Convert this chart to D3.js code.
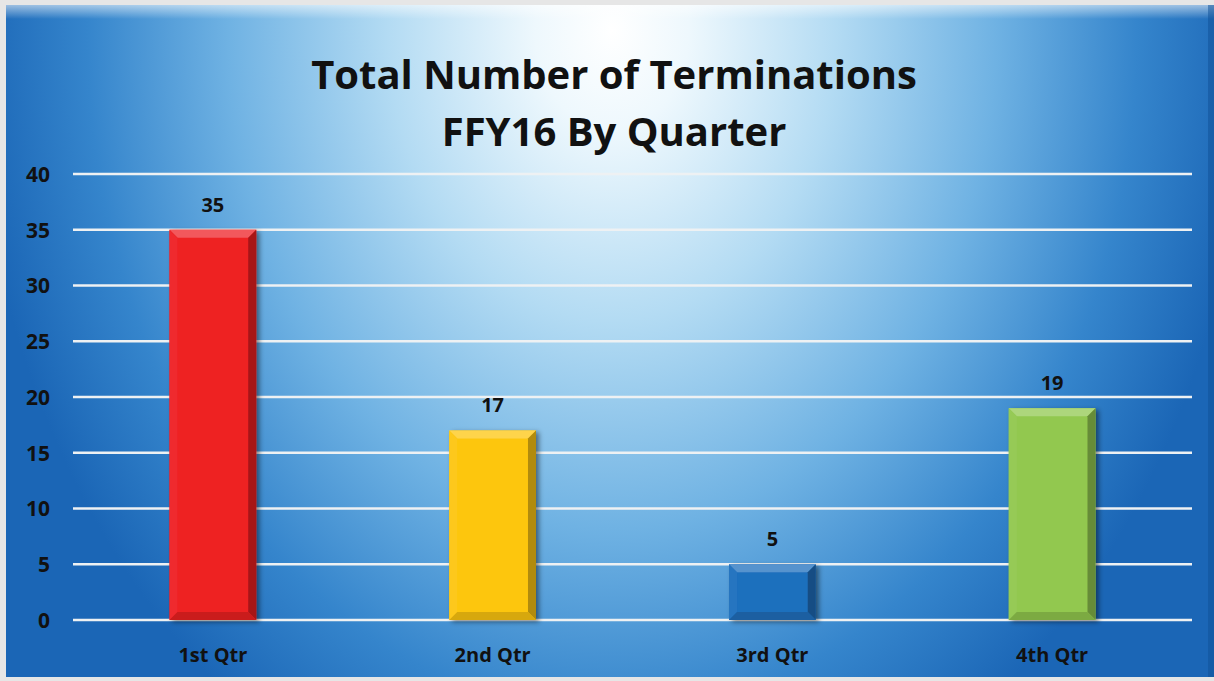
<!DOCTYPE html>
<html>
<head>
<meta charset="utf-8">
<script src="https://cdn.jsdelivr.net/npm/d3@7"></script>
<style>
  html, body { margin: 0; padding: 0; background: #ffffff; }
  svg { display: block; }
  text { font-family: "Open Sans", "Liberation Sans", sans-serif; font-weight: 700; fill: #111; }
</style>
</head>
<body>
<div id="chart"></div>
<script>
const quarters = ["1st Qtr", "2nd Qtr", "3rd Qtr", "4th Qtr"];
const terminations = [35, 17, 5, 19];
const barColors = ["#ee2024", "#fdc610", "#1f6fbd", "#92c84f"];
const yTicks = [0, 5, 10, 15, 20, 25, 30, 35, 40];
const titleLines = ["Total Number of Terminations", "FFY16 By Quarter"];

const W = 1214, H = 681;
const margin = {top: 174, right: 22, bottom: 61, left: 73};

const svg = d3.select("#chart").append("svg")
  .attr("width", W).attr("height", H);

const defs = svg.append("defs");

// background glow
const bg = defs.append("radialGradient")
  .attr("id", "bg")
  .attr("gradientUnits", "userSpaceOnUse")
  .attr("cx", 612).attr("cy", 30).attr("r", 640)
  .attr("gradientTransform", "translate(612,30) scale(1,1.3) translate(-612,-30)");
[[0, "#ffffff"], [0.12, "#eef8fd"], [0.35, "#b3dbf3"], [0.6, "#6fb2e3"], [0.82, "#3585cc"], [1, "#1b66b6"]]
  .forEach(([o, c]) => bg.append("stop").attr("offset", o).attr("stop-color", c));

const topShine = defs.append("linearGradient").attr("id", "topShine")
  .attr("x1", 0).attr("y1", 0).attr("x2", 0).attr("y2", 1);
topShine.append("stop").attr("offset", 0).attr("stop-color", "#ffffff").attr("stop-opacity", 0.55);
topShine.append("stop").attr("offset", 1).attr("stop-color", "#ffffff").attr("stop-opacity", 0);

const shadow = defs.append("filter").attr("id", "shadow")
  .attr("x", "-20%").attr("y", "-10%").attr("width", "150%").attr("height", "125%");
shadow.append("feDropShadow").attr("dx", 3).attr("dy", 2).attr("stdDeviation", 2.5)
  .attr("flood-color", "#000").attr("flood-opacity", 0.45);

// frame
svg.append("rect").attr("width", W).attr("height", H).attr("fill", "#e6e6e6");
svg.append("rect").attr("x", 6).attr("y", 5).attr("width", W - 6).attr("height", H - 9)
  .attr("fill", "url(#bg)");
svg.append("rect").attr("x", 6).attr("y", 5).attr("width", W - 6).attr("height", 14)
  .attr("fill", "url(#topShine)");
svg.append("rect").attr("x", W - 6).attr("y", 5).attr("width", 6).attr("height", H - 9)
  .attr("fill", "#0f4f96").attr("opacity", 0.5);

const x = d3.scaleBand()
  .domain(quarters)
  .range([margin.left, W - margin.right])
  .paddingInner(0.69)
  .paddingOuter(0.345);

const y = d3.scaleLinear()
  .domain([0, 40])
  .range([H - margin.bottom, margin.top]);

// gridlines
svg.append("g")
  .selectAll("line")
  .data(yTicks)
  .join("line")
  .attr("x1", margin.left).attr("x2", W - margin.right)
  .attr("y1", d => y(d)).attr("y2", d => y(d))
  .attr("stroke", "#eef1f3").attr("stroke-width", 2.5);

// y axis labels
const yAxis = svg.append("g")
  .attr("transform", `translate(${margin.left - 23},0)`)
  .call(d3.axisLeft(y).tickValues(yTicks).tickSize(0).tickPadding(0));
yAxis.select(".domain").remove();
yAxis.selectAll("text")
  .attr("font-size", 21).attr("font-family", null).style("font-family", "'Open Sans', sans-serif")
  .attr("fill", "#111").attr("dy", "0.35em");

// x axis labels
const xAxis = svg.append("g")
  .attr("transform", `translate(0,${y(0) + 28})`)
  .call(d3.axisBottom(x).tickSize(0).tickPadding(0));
xAxis.select(".domain").remove();
xAxis.selectAll("text")
  .attr("font-size", 20).attr("font-family", null).style("font-family", "'Open Sans', sans-serif")
  .attr("fill", "#111").attr("dy", "0.71em");

// bars with bevel
const bev = 8;
const bars = svg.append("g").selectAll("g")
  .data(quarters.map((q, i) => ({q, v: terminations[i], c: barColors[i]})))
  .join("g")
  .attr("filter", "url(#shadow)");

bars.append("rect")
  .attr("x", d => x(d.q)).attr("y", d => y(d.v))
  .attr("width", x.bandwidth()).attr("height", d => y(0) - y(d.v))
  .attr("fill", d => d.c);

function bevelPts(d, side) {
  const x0 = x(d.q), x1 = x0 + x.bandwidth(), y0 = y(d.v), y1 = y(0);
  const b = Math.min(bev, (y1 - y0) / 2);
  if (side === "top") return [[x0, y0], [x1, y0], [x1 - b, y0 + b], [x0 + b, y0 + b]];
  if (side === "bottom") return [[x0, y1], [x1, y1], [x1 - b, y1 - b], [x0 + b, y1 - b]];
  if (side === "left") return [[x0, y0], [x0 + b, y0 + b], [x0 + b, y1 - b], [x0, y1]];
  return [[x1, y0], [x1 - b, y0 + b], [x1 - b, y1 - b], [x1, y1]];
}
const sides = [
  {s: "top", f: c => d3.interpolateRgb(c, "#ffffff")(0.25)},
  {s: "left", f: c => d3.interpolateRgb(c, "#ffffff")(0.04)},
  {s: "right", f: c => d3.interpolateRgb(c, "#000000")(0.3)},
  {s: "bottom", f: c => d3.interpolateRgb(c, "#000000")(0.15)}
];
sides.forEach(({s, f}) => {
  bars.append("polygon")
    .attr("points", d => bevelPts(d, s).map(p => p.join(",")).join(" "))
    .attr("fill", d => f(d.c));
});

// value labels
svg.append("g").selectAll("text")
  .data(terminations)
  .join("text")
  .attr("x", (d, i) => x(quarters[i]) + x.bandwidth() / 2)
  .attr("y", d => y(d) - 18)
  .attr("text-anchor", "middle")
  .attr("font-size", 20)
  .text(d => d);

// title
svg.append("g").selectAll("text")
  .data(titleLines)
  .join("text")
  .attr("x", 614)
  .attr("y", (d, i) => 89 + i * 57)
  .attr("text-anchor", "middle")
  .attr("font-size", 40)
  .text(d => d);
</script>
</body>
</html>
